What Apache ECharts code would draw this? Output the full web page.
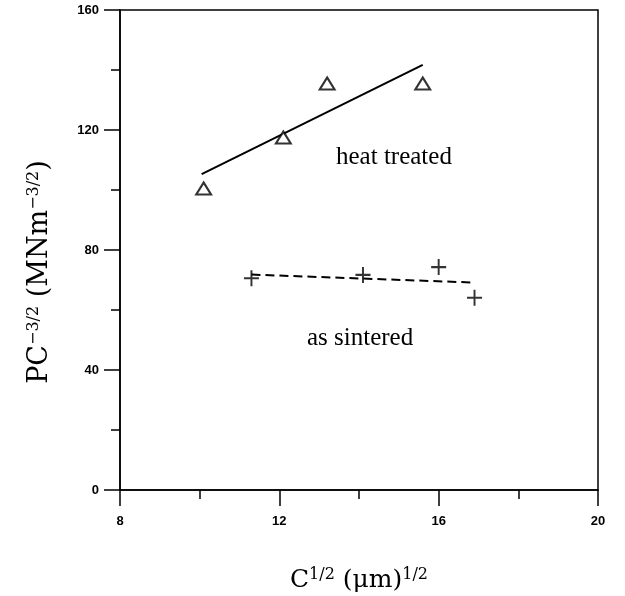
<!DOCTYPE html>
<html>
<head>
<meta charset="utf-8">
<script src="https://cdn.jsdelivr.net/npm/echarts@6/dist/echarts.min.js"></script>
<style>html,body{margin:0;padding:0;background:#fff;}#c{width:625px;height:596px;}</style>
</head>
<body>
<div id="c"></div>
<script>
// Data
var xTicks = [8, 12, 16, 20];
var yTicks = [0, 40, 80, 120, 160];
var heatX = [10.1, 12.1, 13.2, 15.6];
var heatY = [100.5, 117.5, 135.5, 135.5];
var heatFitX = [10.05, 15.6];
var heatFitY = [105.3, 141.7];
var sinteredX = [11.3, 14.1, 16.0, 16.9];
var sinteredY = [70.6, 71.7, 74.3, 64.1];
var sinteredFitX = [11.3, 16.8];
var sinteredFitY = [71.8, 69.2];

function pairs(xs, ys) { return xs.map(function (x, i) { return [x, ys[i]]; }); }

var chart = echarts.init(document.getElementById('c'), null, { renderer: 'canvas' });
var tickFont = { fontFamily: 'Liberation Sans, Arial, sans-serif', fontWeight: 'bold', fontSize: 13, color: '#000' };
var serif = 'Liberation Serif, Times New Roman, serif';
var wideSerif = 'DejaVu Serif, serif';

chart.setOption({
  animation: false,
  backgroundColor: '#fff',
  grid: { left: 120, right: 27, top: 10, bottom: 106, containLabel: false, outerBoundsMode: 'none', show: true, borderColor: '#000', borderWidth: 1.5, backgroundColor: 'transparent' },
  xAxis: {
    type: 'value', min: xTicks[0], max: xTicks[xTicks.length - 1], interval: 4,
    axisLine: { show: true, onZero: false, lineStyle: { color: '#000', width: 1.5 } },
    axisTick: { show: true, inside: false, length: 16, lineStyle: { color: '#000', width: 1.5 } },
    minorTick: { show: true, splitNumber: 2, length: 9, lineStyle: { color: '#000', width: 1.5 } },
    splitLine: { show: false },
    axisLabel: Object.assign({ margin: 25 }, tickFont),
    name: '{b|C}{s|1/2}{b| (\u03bcm)}{s|1/2}',
    nameLocation: 'middle', nameGap: 77,
    nameTextStyle: {
      rich: {
        b: { fontFamily: wideSerif, fontSize: 25, color: '#000' },
        s: { fontFamily: wideSerif, fontSize: 16, color: '#000', verticalAlign: 'top', padding: [0, 0, 11, 0] }
      }
    }
  },
  yAxis: {
    type: 'value', min: yTicks[0], max: yTicks[yTicks.length - 1], interval: 40,
    axisLine: { show: true, lineStyle: { color: '#000', width: 1.5 } },
    axisTick: { show: true, inside: false, length: 16, lineStyle: { color: '#000', width: 1.5 } },
    minorTick: { show: true, splitNumber: 2, length: 9, lineStyle: { color: '#000', width: 1.5 } },
    splitLine: { show: false },
    axisLabel: Object.assign({ margin: 21 }, tickFont),
    name: '{b|PC}{s|\u22123/2}{b| (MNm}{s|\u22123/2}{b|)}',
    nameLocation: 'middle', nameGap: 66, nameRotate: 90,
    nameTextStyle: {
      padding: [0, 44, 0, 0],
      rich: {
        b: { fontFamily: wideSerif, fontSize: 27, color: '#000' },
        s: { fontFamily: wideSerif, fontSize: 16, color: '#000', verticalAlign: 'top', padding: [0, 0, 12, 0] }
      }
    }
  },
  series: [
    {
      name: 'heat treated fit', type: 'line', data: pairs(heatFitX, heatFitY),
      symbol: 'none', lineStyle: { color: '#000', width: 2 }, z: 2
    },
    {
      name: 'as sintered fit', type: 'line', data: pairs(sinteredFitX, sinteredFitY),
      symbol: 'none', lineStyle: { color: '#000', width: 2, type: [9, 5] }, z: 2
    },
    {
      name: 'heat treated', type: 'scatter', data: pairs(heatX, heatY),
      symbol: 'triangle', symbolSize: [15, 12],
      itemStyle: { color: '#fff', borderColor: '#000', borderWidth: 2 }, z: 3
    },
    {
      name: 'as sintered', type: 'scatter', data: pairs(sinteredX, sinteredY),
      symbol: 'path://M0,8 L16,8 M8,0 L8,16', symbolSize: [15, 16],
      itemStyle: { color: 'none', borderColor: '#000', borderWidth: 2 }, z: 3
    }
  ],
  graphic: [
    { type: 'text', x: 336, y: 157, style: { text: 'heat treated', font: '25px ' + serif, fill: '#000', verticalAlign: 'middle' } },
    { type: 'text', x: 307, y: 338, style: { text: 'as sintered', font: '25px ' + serif, fill: '#000', verticalAlign: 'middle' } }
  ]
});
</script>
</body>
</html>
